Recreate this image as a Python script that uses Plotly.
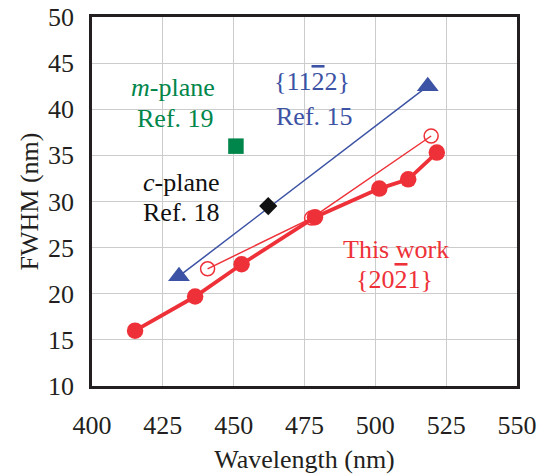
import plotly.graph_objects as go

# Data
this_work_x = [415.2, 436.4, 452.8, 478.7, 501.4, 511.6, 521.7]
this_work_y = [16.0, 19.7, 23.2, 28.3, 31.4, 32.4, 35.3]
open_x = [440.8, 477.5, 519.7]
open_y = [22.7, 28.2, 37.1]
ref15_x = [430.7, 518.5]
ref15_y = [21.9, 42.5]
ref18_x = [462.2]
ref18_y = [29.5]
ref19_x = [450.8]
ref19_y = [36.0]

x_ticks = [400, 425, 450, 475, 500, 525, 550]
y_ticks = [10, 15, 20, 25, 30, 35, 40, 45, 50]

RED = "#EE3138"
BLUE = "#3C52A4"
GREEN = "#00864A"
FONT = "Liberation Serif"
FS = 26

fig = go.Figure()
fig.add_trace(go.Scatter(x=ref15_x, y=ref15_y, mode="lines+markers",
                         line=dict(color=BLUE, width=1.5),
                         marker=dict(symbol="triangle-up", size=19, color=BLUE)))
fig.add_trace(go.Scatter(x=ref18_x, y=ref18_y, mode="markers",
                         marker=dict(symbol="diamond", size=14, color="#111111")))
fig.add_trace(go.Scatter(x=ref19_x, y=ref19_y, mode="markers",
                         marker=dict(symbol="square", size=15.5, color=GREEN)))
fig.add_trace(go.Scatter(x=open_x, y=open_y, mode="lines+markers",
                         line=dict(color=RED, width=1.5),
                         marker=dict(symbol="circle-open", size=14, color=RED,
                                     line=dict(width=1.5, color=RED))))
fig.add_trace(go.Scatter(x=this_work_x, y=this_work_y, mode="lines+markers",
                         line=dict(color=RED, width=3.8),
                         marker=dict(symbol="circle", size=16.5, color=RED)))

OL = '<span style="text-decoration:overline">2</span>'
W, H = 544, 474
pl, pr, pt, pb = 92, 517, 17, 386
annotations = [
    ("<i>m</i>-plane", 173, 87, GREEN),
    ("Ref. 19", 175, 118, GREEN),
    ("{11" + OL + "2}", 311.5, 81, BLUE),
    ("Ref. 15", 314.5, 116, BLUE),
    ("<i>c</i>-plane", 181.5, 182, "#111111"),
    ("Ref. 18", 181.5, 212.5, "#111111"),
    ("This work", 395.5, 249, RED),
    ("{20" + OL + "1}", 394, 279, RED),
]
for text, px, py, col in annotations:
    fig.add_annotation(text=text, x=(px - pl) / (pr - pl), y=1 - (py - pt) / (pb - pt),
                       xref="paper", yref="paper",
                       showarrow=False, font=dict(family=FONT, size=FS, color=col),
                       xanchor="center", yanchor="middle")

fig.update_layout(
    width=W, height=H,
    margin=dict(l=pl, r=W - pr, t=pt, b=H - pb),
    paper_bgcolor="white", plot_bgcolor="white",
    showlegend=False,
    font=dict(family=FONT, size=FS, color="#231F20"),
    xaxis=dict(range=[400, 550], tickvals=x_ticks, showgrid=True, gridcolor="#CCCCCC",
               gridwidth=1, showline=True, linecolor="#231F20", linewidth=2.5, mirror=True,
               zeroline=False, ticks="", ticklabelstandoff=14, automargin=False,
               title=dict(text="Wavelength (nm)", standoff=12, font=dict(size=FS))),
    yaxis=dict(range=[10, 50], tickvals=y_ticks, showgrid=True, gridcolor="#CCCCCC",
               gridwidth=1, showline=True, linecolor="#231F20", linewidth=2.5, mirror=True,
               zeroline=False, ticks="", ticklabelstandoff=10, automargin=False,
               title=dict(text="FWHM (nm)", standoff=2, font=dict(size=FS))),
)

fig.write_html("out.html")
